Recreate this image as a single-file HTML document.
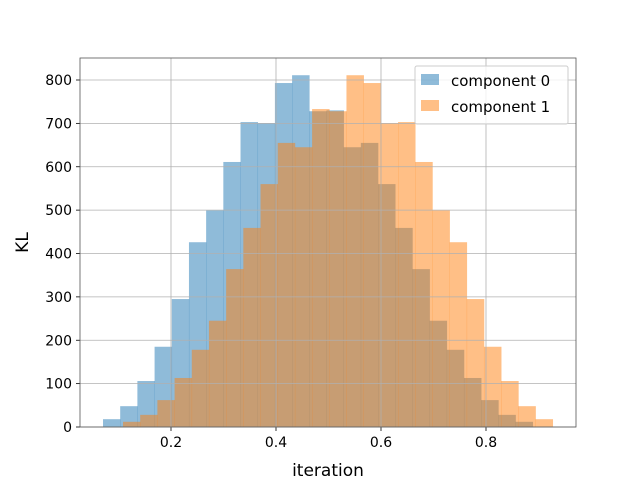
<!DOCTYPE html>
<html><head><meta charset="utf-8"><style>body{margin:0;background:#fff}svg{display:block}text{font-family:"DejaVu Sans","Liberation Sans",sans-serif;fill:#000}</style></head>
<body>
<svg id="chart" width="640" height="480" viewBox="0 0 640 480" xmlns="http://www.w3.org/2000/svg"></svg>
<script>
const binStart0 = 0.0705;
const binStart1 = 0.1086;
const binWidth = 0.03274;
const counts0 = [18,48,106,185,295,426,499,611,703,700,793,811,728,730,645,655,560,459,364,245,178,113,62,28,12];
const counts1 = [12,28,62,113,178,245,364,459,560,655,645,733,728,811,793,700,703,611,499,426,295,185,106,48,18];
const xTicks = [0.2,0.4,0.6,0.8];
const yTicks = [0,100,200,300,400,500,600,700,800];
const seriesNames = ["component 0","component 1"];

const L=80,R=576,T=58,B=427;
const X=v=>66+v*525;
const Y=v=>B-v*(347/800);
const svg=document.getElementById('chart');
const NS='http://www.w3.org/2000/svg';
function mk(tag,attrs,parent){const e=document.createElementNS(NS,tag);for(const k in attrs)e.setAttribute(k,attrs[k]);(parent||svg).appendChild(e);return e;}

const colors=['#1f77b4','#ff7f0e'];
[[counts0,binStart0],[counts1,binStart1]].forEach(([cs,st],s)=>{
  const g=mk('g',{});
  
  
  cs.forEach((c,i)=>{
    const x0=X(st+i*binWidth),x1=X(st+(i+1)*binWidth);
    const r=mk('rect',{x:x0,y:Y(c),width:x1-x0+0.3,height:B-Y(c),fill:colors[s],'fill-opacity':0.5},g);
    
    
  });
});
// grid
xTicks.forEach(t=>{
  const l=mk('line',{x1:X(t),x2:X(t),y1:T,y2:B,stroke:'#b0b0b0','stroke-width':0.8});
  
  
  const tk=mk('line',{x1:X(t),x2:X(t),y1:B,y2:B+4,stroke:'#000','stroke-width':0.8});
  
  
  const tx=mk('text',{x:X(t),y:B+20,'text-anchor':'middle','font-size':14});
  tx.textContent=t.toFixed(1);
  
  
});
yTicks.forEach(t=>{
  const l=mk('line',{x1:L,x2:R,y1:Y(t),y2:Y(t),stroke:'#b0b0b0','stroke-width':0.8});
  
  
  const tk=mk('line',{x1:L-4,x2:L,y1:Y(t),y2:Y(t),stroke:'#000','stroke-width':0.8});
  
  
  const tx=mk('text',{x:L-8,y:Y(t)+5,'text-anchor':'end','font-size':14});
  tx.textContent=t;
  
  
});
const frame=mk('rect',{x:L,y:T,width:R-L,height:B-T,fill:'none',stroke:'#555','stroke-width':0.8});


const xl=mk('text',{x:(L+R)/2,y:476,'text-anchor':'middle','font-size':17});
xl.textContent='iteration';


const yl=mk('text',{x:0,y:0,'text-anchor':'middle','font-size':17,transform:`translate(28,${(T+B)/2}) rotate(-90)`});
yl.textContent='KL';


// legend
const lg=mk('g',{});


mk('rect',{x:415,y:66,width:153,height:58,fill:'#fff','fill-opacity':0.8,stroke:'#ccc','stroke-width':1,rx:2},lg);
seriesNames.forEach((n,i)=>{
  const sw=mk('rect',{x:421,y:74+i*26,width:18,height:11,fill:colors[i],'fill-opacity':0.5},lg);
  
  
  const t=mk('text',{x:451,y:86+i*26,'font-size':15},lg);
  t.textContent=n;
  
  
});
</script>
</body></html>
